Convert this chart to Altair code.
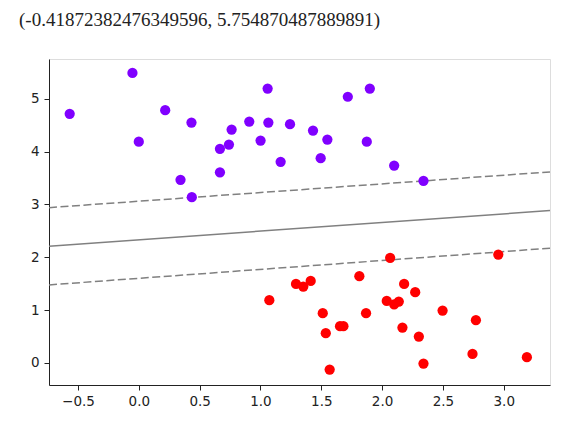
import altair as alt
import pandas as pd

# purple cluster (label 0)
x0 = [-0.568, -0.052, 0.000, 0.217, 0.433, 0.343, 0.436, 0.667, 0.741, 0.763,
      0.667, 0.908, 1.059, 1.001, 1.065, 1.166, 1.243, 1.432, 1.550, 1.495,
      1.718, 1.899, 1.874, 2.099, 2.340]
y0 = [4.716, 5.490, 4.190, 4.786, 4.550, 3.466, 3.138, 4.053, 4.135, 4.419,
      3.610, 4.570, 5.195, 4.210, 4.550, 3.807, 4.520, 4.400, 4.230, 3.877,
      5.040, 5.195, 4.190, 3.737, 3.447]
# red cluster (label 1)
x1 = [1.073, 1.292, 1.352, 1.413, 1.512, 1.537, 1.569, 1.654, 1.682, 1.813,
      1.868, 2.066, 2.038, 2.099, 2.137, 2.181, 2.272, 2.167, 2.302, 2.340,
      2.497, 2.771, 2.743, 2.955, 3.190]
y1 = [1.187, 1.496, 1.445, 1.553, 0.941, 0.562, -0.126, 0.695, 0.695, 1.641,
      0.941, 1.989, 1.174, 1.110, 1.162, 1.496, 1.338, 0.669, 0.499, -0.012,
      0.991, 0.808, 0.170, 2.051, 0.108]

# decision boundary and margins (end points)
line_x = [-0.738, 3.38]
boundary_y = [2.21, 2.885]
upper_y = [2.94, 3.617]
lower_y = [1.477, 2.172]

xlim = [-0.738, 3.38]
ylim = [-0.41872382476349596, 5.754870487889891]
x_ticks = [-0.5, 0.0, 0.5, 1.0, 1.5, 2.0, 2.5, 3.0]
y_ticks = [0, 1, 2, 3, 4, 5]
out_text = "(-0.41872382476349596, 5.754870487889891)"

pts = pd.DataFrame({
    "x": x0 + x1,
    "y": y0 + y1,
    "label": ["0"] * len(x0) + ["1"] * len(x1),
})
lines = pd.DataFrame({
    "x": line_x * 3,
    "y": boundary_y + upper_y + lower_y,
    "kind": ["boundary"] * 2 + ["upper"] * 2 + ["lower"] * 2,
})

font = "DejaVu Sans"
xs = alt.Scale(domain=xlim, nice=False, zero=False)
ys = alt.Scale(domain=ylim, nice=False, zero=False)
xaxis = alt.Axis(values=x_ticks, format=".1f", grid=False, title=None,
                 labelFont=font, labelFontSize=13.5, labelColor="#222",
                 tickSize=5, tickColor="#222", domainColor="#222",
                 labelPadding=4, labelFlush=False)
yaxis = alt.Axis(values=y_ticks, format="d", grid=False, title=None,
                 labelFont=font, labelFontSize=13.5, labelColor="#222",
                 tickSize=5, tickColor="#222", domainColor="#222",
                 labelPadding=5, labelFlush=False)

points = alt.Chart(pts).mark_circle(size=105, opacity=1).encode(
    x=alt.X("x:Q", scale=xs, axis=xaxis),
    y=alt.Y("y:Q", scale=ys, axis=yaxis),
    color=alt.Color("label:N", scale=alt.Scale(domain=["0", "1"],
                    range=["#8000ff", "#ff0000"]), legend=None),
)

solid = alt.Chart(lines[lines.kind == "boundary"]).mark_line(
    color="#808080", strokeWidth=1.5, clip=True).encode(
    x=alt.X("x:Q", scale=xs), y=alt.Y("y:Q", scale=ys))

dashed = alt.Chart(lines[lines.kind != "boundary"]).mark_line(
    color="#808080", strokeWidth=1.5, strokeDash=[8, 3.5], clip=True).encode(
    x=alt.X("x:Q", scale=xs), y=alt.Y("y:Q", scale=ys),
    detail="kind:N")

txt = alt.Chart(pd.DataFrame({"t": [out_text]})).mark_text(
    align="left", baseline="middle", font="Liberation Serif", fontSize=19,
    color="#222").encode(
    x=alt.value(-30), y=alt.value(-39), text="t:N")

chart = alt.layer(solid, dashed, points, txt).properties(
    width=501, height=326,
    autosize=alt.AutoSizeParams(type="none"),
    padding={"left": 41, "top": 51, "right": 10, "bottom": 30},
).configure_view(stroke="#222", strokeWidth=1).configure(background="white")

chart.save("out.html", embed_options={"renderer": "svg", "actions": False})
